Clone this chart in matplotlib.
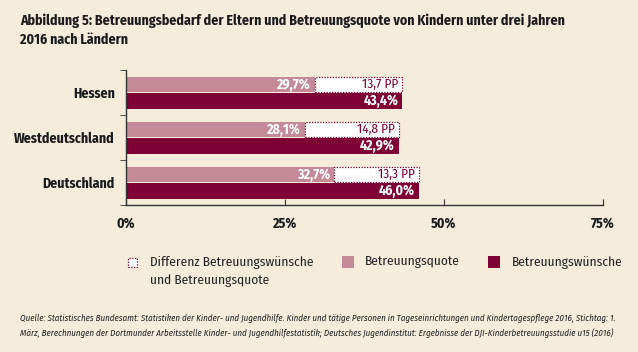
import matplotlib

matplotlib.use('Agg')

import matplotlib.pyplot as plt
from matplotlib import font_manager
from matplotlib.patches import Rectangle

installed = {f.name for f in font_manager.fontManager.ttflist}
candidates = ['Fira Sans Condensed', 'Barlow Semi Condensed', 'Asap Condensed', 'Archivo Narrow']
FONT = [c for c in candidates if c in installed][:1] + ['DejaVu Sans']
plt.rcParams['font.family'] = FONT

BG = '#F5ECDC'
LIGHT = '#C48A97'
DARK = '#7E0035'
AXIS = '#333333'
TEXT = '#1a1a1a'

countries = ['Deutschland', 'Westdeutschland', 'Hessen']
quote = [32.7, 28.1, 29.7]
wunsch = [46.0, 42.9, 43.4]
quote_labels = ['32,7%', '28,1%', '29,7%']
wunsch_labels = ['46,0%', '42,9%', '43,4%']
diff_labels = ['13,3 PP', '14,8 PP', '13,7 PP']
x_ticks = [0, 25, 50, 75]
x_tick_labels = ['0%', '25%', '50%', '75%']

title = ('Abbildung 5: Betreuungsbedarf der Eltern und Betreuungsquote von Kindern unter drei Jahren\n'
         '2016 nach Ländern')
source = ('Quelle: Statistisches Bundesamt: Statistiken der Kinder- und Jugendhilfe. Kinder und tätige Personen '
          'in Tageseinrichtungen und Kindertagespflege 2016, Stichtag: 1.\n'
          'März, Berechnungen der Dortmunder Arbeitsstelle Kinder- und Jugendhilfestatistik; Deutsches '
          'Jugendinstitut: Ergebnisse der DJI-Kinderbetreuungsstudie u15 (2016)')

fig = plt.figure(figsize=(6.38, 3.52), dpi=100, facecolor=BG)
ax = fig.add_axes([0.1975, 0.4176, 0.7475, 0.3835])
ax.set_facecolor(BG)

h = 0.355
off = 0.178
for i in range(len(countries)):
    ax.barh(i + off, quote[i], height=h, color=LIGHT, zorder=2)
    ax.barh(i - off, wunsch[i], height=h, color=DARK, zorder=2)
    ax.add_patch(Rectangle((quote[i], i + off - h / 2), wunsch[i] - quote[i], h,
                           facecolor='white', edgecolor=DARK, linestyle=(0, (1, 1.2)),
                           linewidth=0.9, zorder=3))
    ax.text(quote[i] - 0.6, i + off, quote_labels[i], color='white', fontweight='bold',
            fontsize=10, ha='right', va='center', zorder=4)
    ax.text(wunsch[i] - 0.6, i - off, wunsch_labels[i], color='white', fontweight='bold',
            fontsize=10, ha='right', va='center', zorder=4)
    ax.text(wunsch[i] - 0.6, i + off, diff_labels[i], color=DARK,
            fontsize=9.5, ha='right', va='center', zorder=4)

ax.set_xlim(0, 75)
ax.set_ylim(-0.5, 2.5)
ax.set_xticks(x_ticks)
ax.set_xticklabels(x_tick_labels, fontweight='bold', fontsize=10, color=TEXT)
ax.set_yticks([0, 1, 2])
ax.set_yticklabels(countries, fontweight='bold', fontsize=10, color=TEXT)
ax.set_yticks([-0.5, 0.5, 1.5, 2.5], minor=True)
ax.tick_params(axis='y', which='major', length=0, pad=8)
ax.tick_params(axis='y', which='minor', length=4, color=AXIS, direction='out')
ax.tick_params(axis='x', length=4, direction='in', color=AXIS, pad=8)
for s in ['top', 'right']:
    ax.spines[s].set_visible(False)
for s in ['left', 'bottom']:
    ax.spines[s].set_color(AXIS)
    ax.spines[s].set_linewidth(1.0)

fig.text(0.031, 0.963, title, fontsize=10, fontweight='bold', va='top', ha='left',
         color=TEXT, linespacing=1.5)

# legend
ly = 1 - 263 / 352
fig.patches.append(Rectangle((128 / 638, ly - 0.012), 9 / 638, 9 / 352, transform=fig.transFigure,
                             facecolor='white', edgecolor=DARK, linestyle=(0, (1, 1.2)),
                             linewidth=0.9))
fig.text(150 / 638, ly + 0.02, 'Differenz Betreuungswünsche\nund Betreuungsquote', fontsize=9.6,
         va='top', ha='left', color='#222222', linespacing=1.5)
fig.patches.append(Rectangle((342 / 638, ly - 0.013), 12 / 638, 12 / 352, transform=fig.transFigure,
                             facecolor=LIGHT, edgecolor='none'))
fig.text(365 / 638, ly + 0.02, 'Betreuungsquote', fontsize=9.6, va='top', ha='left', color='#222222')
fig.patches.append(Rectangle((488 / 638, ly - 0.013), 12 / 638, 12 / 352, transform=fig.transFigure,
                             facecolor=DARK, edgecolor='none'))
fig.text(512 / 638, ly + 0.02, 'Betreuungswünsche', fontsize=9.6, va='top', ha='left', color='#222222')

fig.text(0.031, 1 - 314 / 352, source, fontsize=6.45, style='italic', va='top', ha='left',
         color='#222222', linespacing=1.6)

fig.savefig('out.png', dpi=100, facecolor=BG)
